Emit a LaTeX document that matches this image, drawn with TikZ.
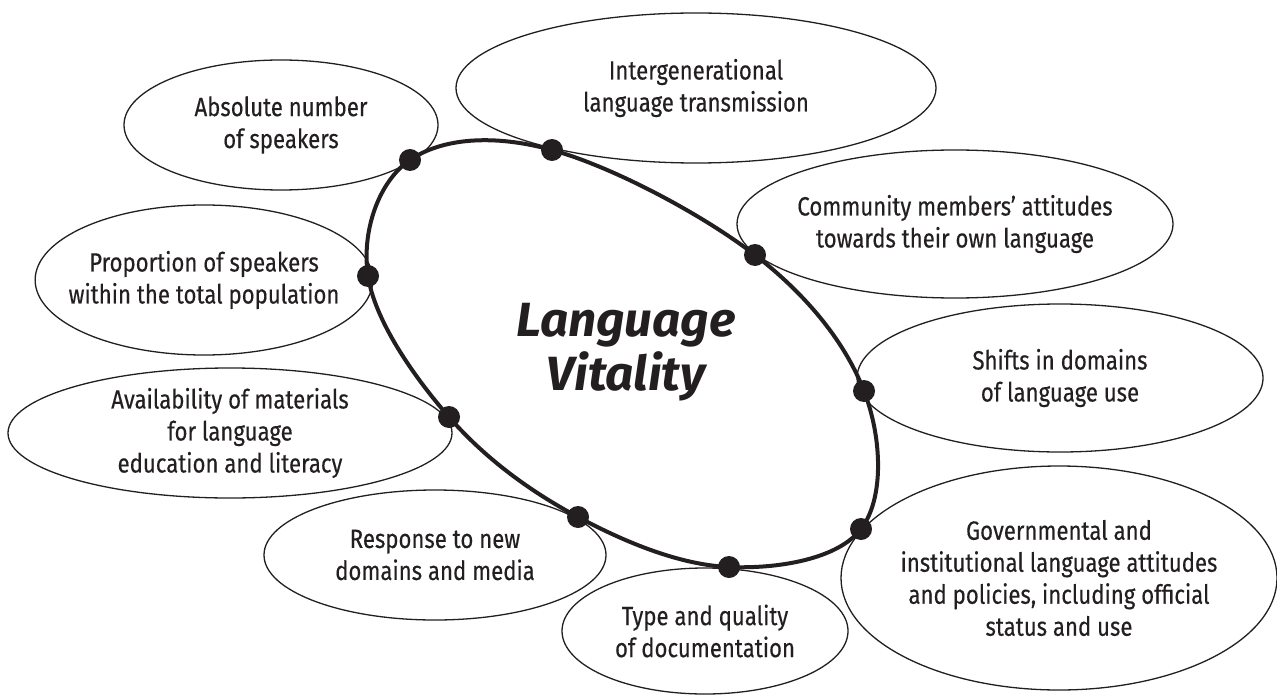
\documentclass[tikz,border=0pt]{standalone}
\usepackage{fontspec}
\setmainfont{Fira Sans}[FakeStretch=0.84, FakeBold=0.35]
\newfontfamily\titlefont{Fira Sans}[FakeStretch=1.03]
\usetikzlibrary{shapes.geometric}
\definecolor{ink}{HTML}{231F20}
\begin{document}
\begin{tikzpicture}[x=0.5pt,y=-0.5pt,
  factor/.style={draw=ink, line width=0.65pt, ellipse, inner sep=-8pt, align=center,
    font=\fontsize{13.2}{16}\selectfont, text=ink},
  dotnode/.style={circle, fill=ink, inner sep=0pt, minimum size=11pt},
  loopline/.style={draw=ink, line width=2pt},
  title/.style={align=center, text=ink, font=\titlefont\bfseries\itshape\fontsize{24}{27}\selectfont}]
\useasboundingbox (0,0) rectangle (1277,695);
% outer factor ellipses
\node[factor, minimum width=157pt, minimum height=65pt] (e1) at (281,125) {Absolute number\\of speakers};
\node[factor, minimum width=240pt, minimum height=75pt] (e2) at (696,88) {Intergenerational\\language transmission};
\node[factor, minimum width=218pt, minimum height=74pt] (e3) at (955,224) {Community members’ attitudes\\towards their own language};
\node[factor, minimum width=203pt, minimum height=74pt] (e4) at (1060,378) {Shifts in domains\\of language use};
\node[factor, minimum width=218pt, minimum height=112pt] (e5) at (1059,578) {Governmental and\\institutional language attitudes\\and policies, including official\\status and use};
\node[factor, minimum width=143pt, minimum height=63pt] (e6) at (705,631) {Type and quality\\of documentation};
\node[factor, minimum width=171pt, minimum height=65pt] (e7) at (435,555) {Response to new\\domains and media};
\node[factor, minimum width=222pt, minimum height=65pt] (e8) at (230,433) {Availability of materials\\for language\\education and literacy};
\node[factor, minimum width=161pt, minimum height=75pt] (e9) at (204,280) {Proportion of speakers\\within the total population};
% loop points
\coordinate (p1) at (410,160);
\coordinate (p2) at (552,150);
\coordinate (p3) at (755,255);
\coordinate (p4) at (864,391);
\coordinate (p5) at (861,529);
\coordinate (p6) at (729,567);
\coordinate (p7) at (578,517);
\coordinate (p8) at (449,417);
\coordinate (p9) at (368,276);
\draw[loopline] plot[smooth cycle, tension=0.62] coordinates {(p1) (p2) (p3) (p4) (p5) (p6) (p7) (p8) (p9)};
\foreach \i in {1,...,9} {\node[dotnode] (d\i) at (p\i) {};}
\node[title] (lv) at (626,352) {Language\\Vitality};
\end{tikzpicture}
\end{document}
